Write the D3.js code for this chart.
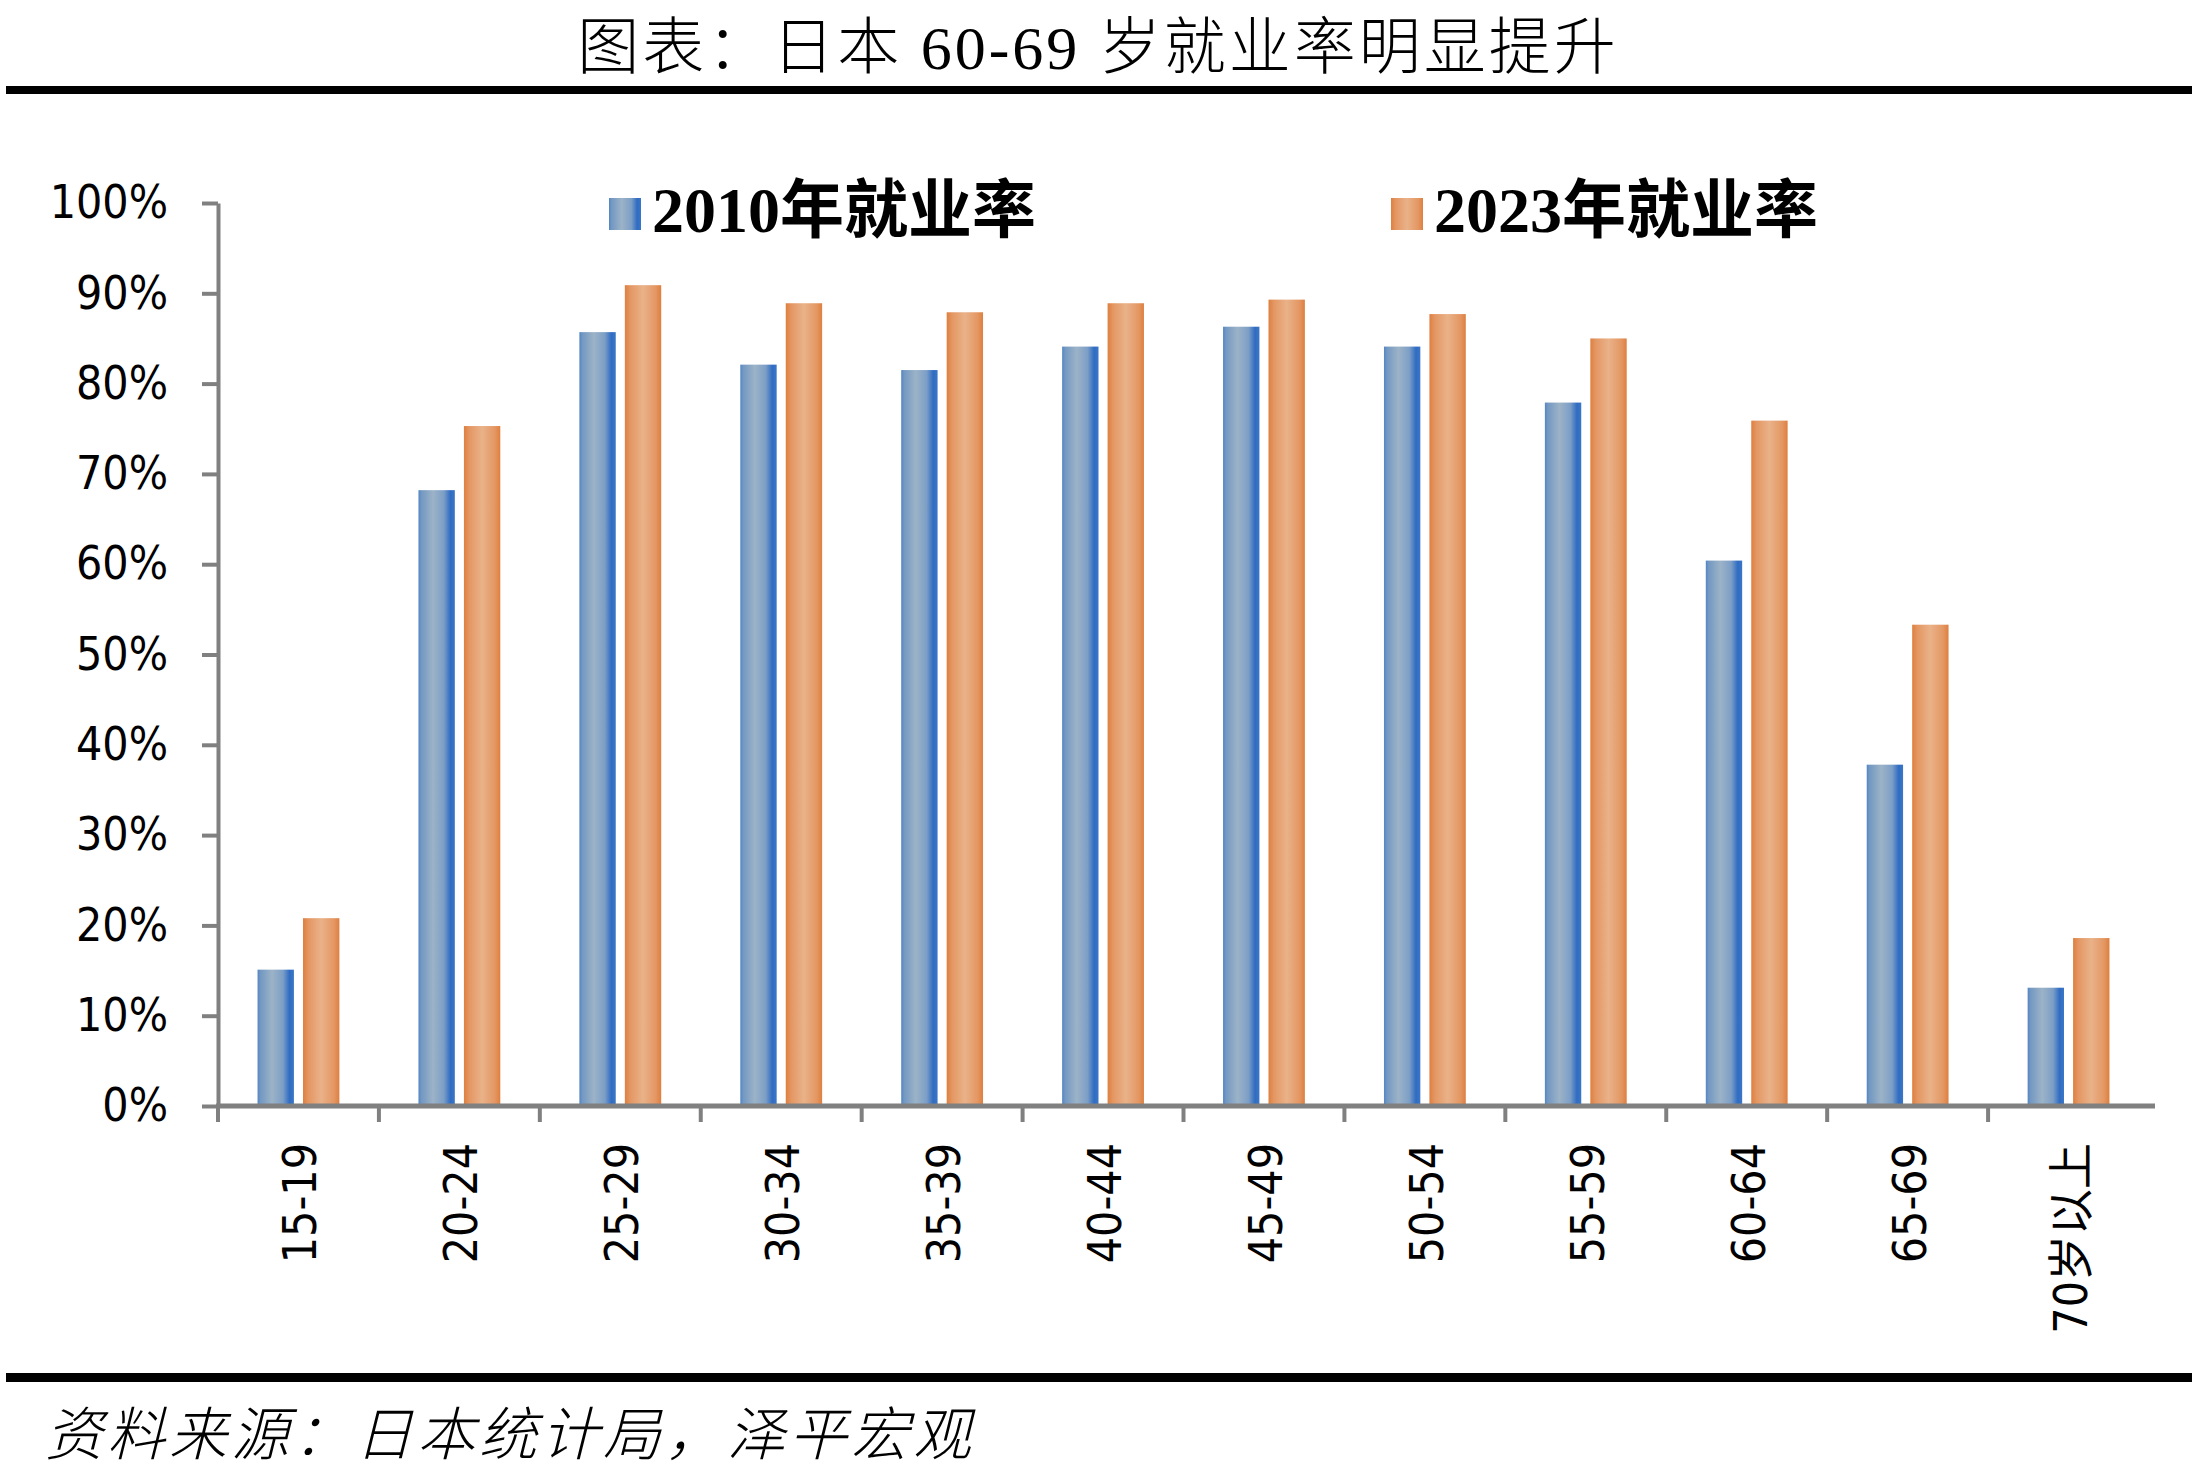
<!DOCTYPE html>
<html>
<head>
<meta charset="utf-8">
<script src="https://cdn.jsdelivr.net/npm/d3@7"></script>
<style>
  body { margin: 0; background: #fff; }
  svg { display: block; }
</style>
</head>
<body>
<svg id="chart"></svg>
<script>
// data (percent)
const categories = ['15-19', '20-24', '25-29', '30-34', '35-39', '40-44', '45-49', '50-54', '55-59', '60-64', '65-69', '70岁以上'];
const seriesNames = ['2010年就业率', '2023年就业率'];
const rate2010 = [15.1, 68.2, 85.7, 82.1, 81.5, 84.1, 86.3, 84.1, 77.9, 60.4, 37.8, 13.1];
const rate2023 = [20.8, 75.3, 90.9, 88.9, 87.9, 88.9, 89.3, 87.7, 85.0, 75.9, 53.3, 18.6];
const yTicks = [0, 10, 20, 30, 40, 50, 60, 70, 80, 90, 100];

const W = 2196, H = 1482;
const svg = d3.select('#chart').attr('width', W).attr('height', H);

const labelFont = '"DejaVu Sans Condensed", "DejaVu Sans", "Noto Sans CJK SC", sans-serif';
const cjkFont = '"Noto Sans CJK SC", sans-serif';

// gradients like the office-style bars
const defs = svg.append('defs');
const gradBlue = defs.append('linearGradient').attr('id', 'gBlue');
[[0, '#5186c4'], [0.08, '#7398c2'], [0.4, '#9cb3c7'], [0.7, '#7c9ec6'], [0.88, '#2f6cc2'], [1, '#3b76c6']]
  .forEach(([o, c]) => gradBlue.append('stop').attr('offset', o).attr('stop-color', c));
const gradOrange = defs.append('linearGradient').attr('id', 'gOrange');
[[0, '#de7f3f'], [0.15, '#e49763'], [0.5, '#e9b289'], [0.85, '#e49763'], [1, '#de7f3f']]
  .forEach(([o, c]) => gradOrange.append('stop').attr('offset', o).attr('stop-color', c));
const fills = ['url(#gBlue)', 'url(#gOrange)'];

// title + rules
svg.append('text')
  .attr('x', W / 2).attr('y', 69)
  .attr('text-anchor', 'middle')
  .style('font-family', '"Liberation Serif", ' + cjkFont)
  .style('font-size', '62px')
  .style('font-weight', '300')
  .style('letter-spacing', '3px')
  .text('图表：日本 60-69 岁就业率明显提升');

svg.append('rect').attr('x', 6).attr('y', 86).attr('width', 2186).attr('height', 8).attr('fill', '#000');
svg.append('rect').attr('x', 6).attr('y', 1373).attr('width', 2186).attr('height', 9).attr('fill', '#000');

svg.append('text')
  .attr('x', 45).attr('y', 1455)
  .style('font-family', cjkFont)
  .style('font-size', '58px')
  .style('font-style', 'italic')
  .style('font-weight', '300')
  .style('letter-spacing', '4px')
  .text('资料来源：日本统计局，泽平宏观');

// scales
const x0 = d3.scaleBand().domain(categories).range([218, 2149]);
const x1 = d3.scaleBand().domain(seriesNames).range([0, x0.bandwidth()])
  .paddingInner(0.2).paddingOuter(0.87);
const y = d3.scaleLinear().domain([0, 100]).range([1106, 203]);

const table = categories.map((c, i) => ({ cat: c, values: [rate2010[i], rate2023[i]] }));

// bars
const groups = svg.append('g').selectAll('g')
  .data(table)
  .enter()
  .append('g')
  .attr('transform', d => `translate(${x0(d.cat)},0)`);

groups.selectAll('rect')
  .data(d => d.values.map((v, j) => ({ key: seriesNames[j], v, j })))
  .enter()
  .append('rect')
  .attr('x', d => x1(d.key))
  .attr('y', d => y(d.v))
  .attr('width', x1.bandwidth())
  .attr('height', d => y(0) - y(d.v))
  .attr('fill', d => fills[d.j]);

// y axis
const yAxis = svg.append('g')
  .attr('transform', 'translate(218,0)')
  .call(d3.axisLeft(y).tickValues(yTicks).tickFormat(d => d + '%').tickSize(16).tickSizeOuter(0).tickPadding(34));
yAxis.select('.domain').attr('stroke', '#808080').attr('stroke-width', 4);
yAxis.selectAll('.tick line').attr('stroke', '#808080').attr('stroke-width', 4);
yAxis.selectAll('.tick text')
  .attr('fill', '#000')
  .style('font-family', labelFont)
  .style('font-stretch', 'condensed')
  .style('font-size', '46px');

// x axis: line, boundary ticks, rotated labels
const xAxis = svg.append('g').attr('transform', `translate(0,${y(0)})`);
xAxis.append('line')
  .attr('x1', 216).attr('x2', 2155)
  .attr('stroke', '#808080').attr('stroke-width', 5);
xAxis.selectAll('line.bound')
  .data(categories)
  .enter()
  .append('line')
  .attr('class', 'bound')
  .attr('x1', d => x0(d)).attr('x2', d => x0(d))
  .attr('y1', 0).attr('y2', 16)
  .attr('stroke', '#808080').attr('stroke-width', 4);

xAxis.selectAll('text.lbl')
  .data(categories)
  .enter()
  .append('text')
  .attr('class', 'lbl')
  .attr('transform', d => `translate(${x0(d) + x0.bandwidth() / 2 + 2},37) rotate(-90)`)
  .attr('text-anchor', 'end')
  .attr('dominant-baseline', 'central')
  .style('font-family', labelFont)
  .style('font-stretch', 'condensed')
  .style('font-size', '46px')
  .text(d => d);

// legend
const legendX = [609, 1391];
const legend = svg.append('g').selectAll('g')
  .data(seriesNames)
  .enter()
  .append('g')
  .attr('transform', (d, i) => `translate(${legendX[i]},0)`);
legend.append('rect')
  .attr('x', 0).attr('y', 198).attr('width', 32).attr('height', 32)
  .attr('fill', (d, i) => fills[i]);
legend.append('text')
  .attr('x', 43).attr('y', 232)
  .style('font-family', '"Liberation Serif", ' + cjkFont)
  .style('font-size', '64px')
  .style('font-weight', 'bold')
  .text(d => d);
</script>
</body>
</html>
